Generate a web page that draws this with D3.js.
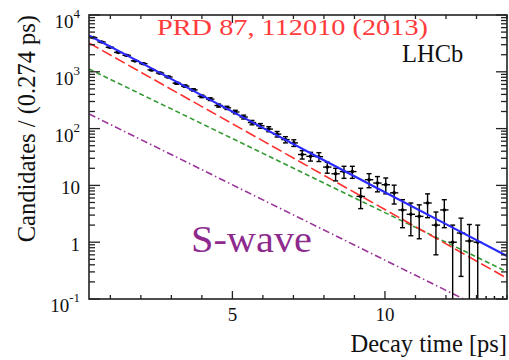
<!DOCTYPE html>
<html>
<head>
<meta charset="utf-8">
<script src="https://cdn.jsdelivr.net/npm/d3@7"></script>
<style>
  body { margin: 0; background: #fff; }
  text { font-family: "Liberation Serif", "DejaVu Serif", serif; }
</style>
</head>
<body>
<div id="chart"></div>
<script>
// binning of the decay time histogram
var binStart = 0.3,
  binWidth = 0.274;

// candidates per bin
var counts = [
  4000, 3350, 2700, 2200, 1950, 1560, 1390, 1080, 950, 810,
  630, 560, 480, 370, 330, 255, 232, 196, 160, 128,
  112, 98, 80, 64, 56, 35, 32.5, 32, 21, 16,
  17.5, 17.5, 6.4, 12.6, 11, 10.3, 7.4, 3.7, 3.1, 2.85,
  4.9, 2.0, 3.7, 1.0, 1.45, 1.05, 1.0, 0, 0, 0
];
var errors = [
  63, 58, 52, 47, 44, 39, 37, 33, 31, 28,
  25, 24, 22, 19, 18, 16, 15, 14, 12.6, 11.3,
  10.6, 9.9, 8.9, 8.0, 7.5, 5.9, 5.7, 5.7, 4.6, 4.0,
  4.2, 4.2, 2.5, 3.5, 3.3, 3.2, 2.7, 1.9, 1.8, 1.7,
  2.2, 1.4, 1.9, 1.0, 1.2, 1.0, 1.0, 0, 0, 0
];

// fit curves, sampled at these decay times
var curveT = [0.3, 2, 4, 6, 8, 10, 12, 14];
var totalFit = [4350, 1450, 385, 103, 27.7, 7.6, 2.08, 0.57];
var redFit = [3210, 983, 244, 60.8, 15.1, 3.76, 0.934, 0.232];
var greenFit = [1120, 404, 121.7, 36.6, 11.0, 3.32, 1.00, 0.301];
var swaveFit = [181, 64.1, 18.9, 5.56, 1.64, 0.483, 0.142, 0.042];

var xMajor = [5, 10],
  xMinor = [1, 2, 3, 4, 6, 7, 8, 9, 11, 12, 13, 14];
var yMajor = [
  { v: 1e4, base: '10', exp: '4' },
  { v: 1e3, base: '10', exp: '3' },
  { v: 1e2, base: '10', exp: '2' },
  { v: 10, base: '10', exp: '' },
  { v: 1, base: '1', exp: '' },
  { v: 0.1, base: '10', exp: '-1' }
];

var W = 509, H = 360,
  pL = 89, pR = 507, pT = 15, pB = 299;

var x = d3.scaleLinear().domain([0.3, 14]).range([pL, pR]);
var y = d3.scaleLog().domain([0.1, 1e4]).range([pB, pT]);

var svg = d3.select('#chart').append('svg')
  .attr('width', W).attr('height', H);

svg.append('defs').append('clipPath').attr('id', 'plotclip')
  .append('rect')
  .attr('x', pL).attr('y', pT)
  .attr('width', pR - pL).attr('height', pB - pT);

var plot = svg.append('g').attr('clip-path', 'url(#plotclip)');

// fit curves
var line = d3.line()
  .x(function (d) { return x(d[0]); })
  .y(function (d) { return y(d[1]); });

function curve(vals, color, width, dash) {
  plot.append('path')
    .attr('d', line(curveT.map(function (t, i) { return [t, vals[i]]; })))
    .attr('fill', 'none')
    .attr('stroke', color)
    .attr('stroke-width', width)
    .attr('stroke-dasharray', dash);
}
curve(swaveFit, '#993399', 1.6, '7,3,1.5,3');
curve(greenFit, '#339933', 1.6, '5,3');
curve(redFit, '#ff3030', 1.6, '11,4');

// data points with error bars
var pts = counts.map(function (c, i) {
  return { t: binStart + binWidth * (i + 0.5), n: c, e: errors[i] };
});
var dataG = plot.append('g').attr('stroke', '#000').attr('stroke-width', 1.4);
pts.forEach(function (p) {
  var cx = x(p.t);
  if (p.n <= 0) {
    dataG.append('line')
      .attr('x1', cx).attr('x2', cx)
      .attr('y1', pB).attr('y2', pB - 3);
    return;
  }
  var cy = y(p.n),
    yHi = y(p.n + p.e),
    yLo = p.n - p.e > 0.1 ? y(p.n - p.e) : pB + 2,
    hw = x(p.t + binWidth / 2) - cx;
  dataG.append('line').attr('x1', cx).attr('x2', cx).attr('y1', yHi).attr('y2', yLo);
  dataG.append('line').attr('x1', cx - hw).attr('x2', cx + hw).attr('y1', cy).attr('y2', cy);
  dataG.append('line').attr('x1', cx - 2.5).attr('x2', cx + 2.5).attr('y1', yHi).attr('y2', yHi);
  if (yLo < pB) {
    dataG.append('line').attr('x1', cx - 2.5).attr('x2', cx + 2.5).attr('y1', yLo).attr('y2', yLo);
  }
  dataG.append('circle').attr('cx', cx).attr('cy', cy).attr('r', 1.8)
    .attr('fill', '#000').attr('stroke', 'none');
});

curve(totalFit, '#2a2aff', 2.2, null);

// frame and ticks
var axisG = svg.append('g').attr('stroke', '#222').attr('stroke-width', 1.3);
axisG.append('rect')
  .attr('x', pL).attr('y', pT)
  .attr('width', pR - pL).attr('height', pB - pT)
  .attr('fill', 'none').attr('stroke-width', 1.6);

xMajor.concat(xMinor).forEach(function (t) {
  var len = xMajor.indexOf(t) >= 0 ? 8 : 4;
  var px = x(t);
  axisG.append('line').attr('x1', px).attr('x2', px).attr('y1', pB).attr('y2', pB - len);
  axisG.append('line').attr('x1', px).attr('x2', px).attr('y1', pT).attr('y2', pT + len);
});

d3.range(-1, 4).forEach(function (k) {
  d3.range(1, 10).forEach(function (m) {
    var v = m * Math.pow(10, k);
    var py = y(v), len = m === 1 ? 11 : 6;
    axisG.append('line').attr('x1', pL).attr('x2', pL + len).attr('y1', py).attr('y2', py);
    axisG.append('line').attr('x1', pR).attr('x2', pR - len).attr('y1', py).attr('y2', py);
  });
});
[1e4].forEach(function (v) {
  var py = y(v);
  axisG.append('line').attr('x1', pL).attr('x2', pL + 11).attr('y1', py).attr('y2', py);
  axisG.append('line').attr('x1', pR).attr('x2', pR - 11).attr('y1', py).attr('y2', py);
});

// tick labels
yMajor.forEach(function (d) {
  var txt = svg.append('text')
    .attr('x', 80)
    .attr('y', y(d.v) + (d.exp ? 13 : 9))
    .attr('text-anchor', 'end')
    .attr('font-size', 19)
    .attr('fill', '#111');
  txt.append('tspan').text(d.base);
  if (d.exp) {
    txt.append('tspan').attr('font-size', 13).attr('dy', -10).text(d.exp);
  }
});

xMajor.forEach(function (t) {
  svg.append('text')
    .attr('x', x(t)).attr('y', 321)
    .attr('text-anchor', 'middle')
    .attr('font-size', 19)
    .attr('fill', '#111')
    .text(t);
});

// axis titles
svg.append('text')
  .attr('x', pR).attr('y', 352)
  .attr('text-anchor', 'end')
  .attr('font-size', 24.5)
  .attr('fill', '#111')
  .text('Decay time [ps]');

svg.append('text')
  .attr('transform', 'translate(35,' + pT + ') rotate(-90)')
  .attr('text-anchor', 'end')
  .attr('font-size', 24.5)
  .attr('fill', '#111')
  .text('Candidates / (0.274 ps)');

// labels in the plot
svg.append('text')
  .attr('x', 157).attr('y', 35)
  .attr('font-size', 23)
  .attr('textLength', 271)
  .attr('lengthAdjust', 'spacingAndGlyphs')
  .attr('fill', '#ff3b3b')
  .text('PRD 87, 112010 (2013)');

svg.append('text')
  .attr('x', 402).attr('y', 62)
  .attr('font-size', 24.5)
  .attr('fill', '#111')
  .text('LHCb');

svg.append('text')
  .attr('x', 191).attr('y', 252)
  .attr('font-size', 38)
  .attr('textLength', 121)
  .attr('lengthAdjust', 'spacingAndGlyphs')
  .attr('fill', '#8e2a8e')
  .text('S-wave');
</script>
</body>
</html>
